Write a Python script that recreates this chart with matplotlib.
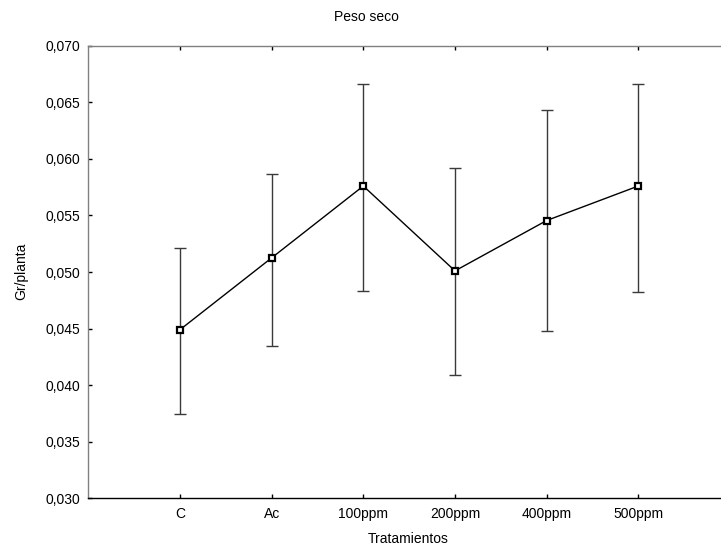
import matplotlib
matplotlib.use("Agg")
import matplotlib.pyplot as plt
import numpy as np

categories = ["C", "Ac", "100ppm", "200ppm", "400ppm", "500ppm"]
means = [0.0449, 0.05125, 0.0576, 0.0501, 0.05455, 0.0576]
lower = [0.03744, 0.04345, 0.04834, 0.04086, 0.04481, 0.04825]
upper = [0.05214, 0.0587, 0.0666, 0.0592, 0.0643, 0.0666]
yticks = [0.030, 0.035, 0.040, 0.045, 0.050, 0.055, 0.060, 0.065, 0.070]
ytick_labels = ["0,030", "0,035", "0,040", "0,045", "0,050", "0,055", "0,060", "0,065", "0,070"]

plt.rcParams['font.family'] = ['Liberation Sans', 'DejaVu Sans']

W, H = 721, 548
fig = plt.figure(figsize=(W / 100, H / 100), dpi=100)
ax = fig.add_axes([88.3 / W, (H - 498.3) / H, (730 - 88.3) / W, (498.3 - 45.7) / H])

x = np.arange(1, len(categories) + 1)
m = np.array(means)
yerr = np.vstack([m - np.array(lower), np.array(upper) - m])

ax.errorbar(x, m, yerr=yerr, fmt='none', ecolor='#3a3a3a', elinewidth=1.0,
            capsize=4.5, capthick=1.0, zorder=2)
ax.plot(x, m, color='black', linewidth=1.0, marker='s', markersize=4.6,
        markerfacecolor='white', markeredgecolor='black', markeredgewidth=1.6, zorder=3)

ax.set_xlim(0, 7)
ax.set_ylim(0.030, 0.070)
ax.set_xticks(x)
ax.set_xticklabels(categories)
ax.set_yticks(yticks)
ax.set_yticklabels(ytick_labels)

ax.tick_params(axis='both', direction='in', length=3, width=1, labelsize=10, pad=6,
               colors='black')
ax.tick_params(axis='x', top=True, bottom=True)
ax.tick_params(axis='y', left=True, right=False)

ax.spines['left'].set_color('#808080')
ax.spines['top'].set_color('#808080')
ax.spines['bottom'].set_color('black')
for s in ['left', 'top', 'bottom']:
    ax.spines[s].set_linewidth(1.0)
ax.spines['right'].set_visible(False)

fig.text(366 / W, 1 - 17 / H, "Peso seco", ha='center', va='center', fontsize=10)
fig.text(408 / W, 1 - 539 / H, "Tratamientos", ha='center', va='center', fontsize=10)
fig.text(21 / W, 1 - 271 / H, "Gr/planta", ha='center', va='center', fontsize=10,
         rotation=90)

fig.savefig("out.png", dpi=100)
